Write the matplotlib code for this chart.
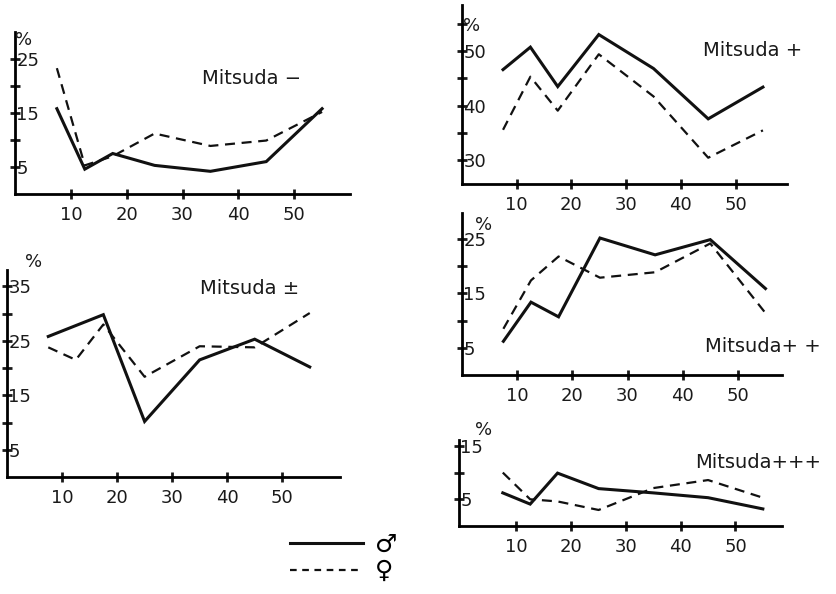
import matplotlib
matplotlib.use('Agg')
import matplotlib.pyplot as plt
from matplotlib.lines import Line2D

# ---- data ----
ages = [7.5, 12.5, 17.5, 25, 35, 45, 55]
x_ticks = [10, 20, 30, 40, 50]

minus_male = [15.8, 4.6, 7.5, 5.3, 4.2, 6.0, 15.8]
minus_female = [23.3, 5.3, 7.0, 11.2, 8.9, 9.9, 15.2]

pm_male = [25.8, 27.8, 29.8, 10.2, 21.5, 25.3, 20.2]
pm_female = [23.8, 21.5, 28.0, 18.4, 24.0, 23.8, 30.1]

plus_male = [46.6, 50.7, 43.5, 53.0, 46.8, 37.6, 43.4]
plus_female = [35.6, 45.3, 39.1, 49.4, 41.7, 30.5, 35.5]

pp_male = [6.2, 13.4, 10.7, 25.2, 22.1, 24.9, 15.9]
pp_female = [8.5, 17.4, 21.8, 17.9, 18.9, 24.2, 11.4]

ppp_male = [6.2, 4.1, 9.9, 7.0, 6.2, 5.3, 3.2]
ppp_female = [10.0, 5.0, 4.6, 3.0, 7.1, 8.6, 5.3]

titles = ['Mitsuda −', 'Mitsuda ±', 'Mitsuda +', 'Mitsuda+ +', 'Mitsuda+++']
legend_labels = ['♂', '♀']

W, H = 836, 594
fig = plt.figure(figsize=(W / 100, H / 100), dpi=100)
fig.patch.set_facecolor('white')


def px_rect(x0, y_axis, x1, y_top):
    return [x0 / W, 1 - y_axis / H, (x1 - x0) / W, (y_axis - y_top) / H]


def setup(ax, xlim, ylim, yticks, ylabels):
    ax.set_xlim(*xlim)
    ax.set_ylim(*ylim)
    ax.patch.set_alpha(0)
    for s in ['top', 'right']:
        ax.spines[s].set_visible(False)
    for s in ['left', 'bottom']:
        ax.spines[s].set_linewidth(2.0)
    ax.set_xticks(x_ticks)
    ax.set_xticklabels([str(t) for t in x_ticks])
    ax.set_yticks(yticks)
    ax.set_yticklabels(ylabels)
    ax.tick_params(direction='inout', length=7, width=2, labelsize=13,
                   colors='#1a1a1a')
    ax.tick_params(axis='x', pad=5)
    ax.tick_params(axis='y', pad=-4.5)
    for lab in ax.get_yticklabels():
        lab.set_ha('left')


def draw(ax, male, female):
    ax.plot(ages, male, color='#111111', lw=2.2, solid_joinstyle='miter')
    ax.plot(ages, female, color='#111111', lw=1.6, ls=(0, (4.5, 3)))


# Panel 1: Mitsuda -
ax1 = fig.add_axes(px_rect(15, 194, 350, 32))
setup(ax1, (0, 60), (0, 30), [5, 10, 15, 20, 25], ['5', '', '15', '', '25'])
draw(ax1, minus_male, minus_female)

# Panel 2: Mitsuda ±
ax2 = fig.add_axes(px_rect(7, 477, 340, 270))
setup(ax2, (0, 60.5), (0, 38), [5, 10, 15, 20, 25, 30, 35],
      ['5', '', '15', '', '25', '', '35'])
draw(ax2, pm_male, pm_female)

# Panel 3: Mitsuda +
ax3 = fig.add_axes(px_rect(462, 184, 787, 5))
setup(ax3, (0, 59.4), (25.7, 58.4), [30, 35, 40, 45, 50, 55],
      ['30', '', '40', '', '50', '%'])
draw(ax3, plus_male, plus_female)

# Panel 4: Mitsuda ++
ax4 = fig.add_axes(px_rect(462, 375, 782, 213))
setup(ax4, (0, 58), (0, 29.8), [5, 10, 15, 20, 25], ['5', '', '15', '', '25'])
draw(ax4, pp_male, pp_female)

# Panel 5: Mitsuda +++
ax5 = fig.add_axes(px_rect(459, 526, 782, 440))
setup(ax5, (-0.5, 58.5), (0, 16.1), [5, 10, 15], ['5', '', '15'])
draw(ax5, ppp_male, ppp_female)

# "%" labels
for (px, py) in [(24, 40), (34, 262), (484, 225), (484, 430)]:
    fig.text(px / W, 1 - py / H, '%', fontsize=13, ha='center', va='center',
             color='#1a1a1a')

# Panel titles
for t, (px, py) in zip(titles, [(202, 78), (200, 288), (703, 50), (705, 347), (695, 463)]):
    fig.text(px / W, 1 - py / H, t, fontsize=14, ha='left', va='center',
             color='#1a1a1a')

# Legend
handles = [Line2D([], [], color='#111111', lw=2.2),
           Line2D([], [], color='#111111', lw=1.6, ls=(0, (3, 2.5)))]
fig.legend(handles=handles, labels=legend_labels, loc='center',
           bbox_to_anchor=(344 / W, 1 - 558 / H), frameon=False, fontsize=18,
           handlelength=2.9, labelspacing=0.1, handletextpad=0.5)

fig.savefig('out.png', dpi=100, facecolor='white')
